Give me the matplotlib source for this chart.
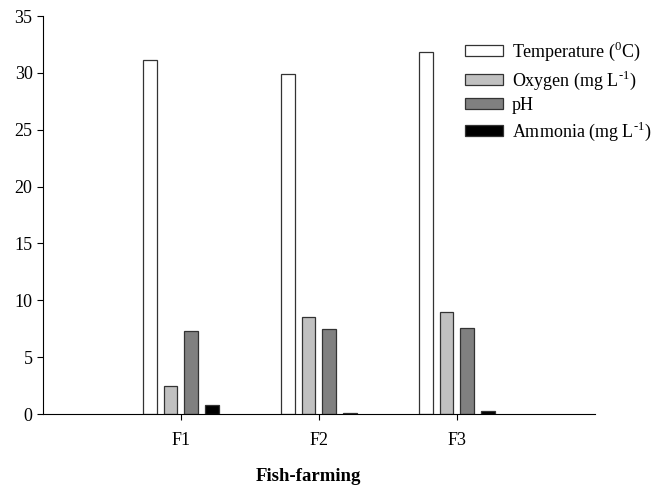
import matplotlib
matplotlib.use("Agg")
import matplotlib.pyplot as plt
import numpy as np

plt.rcParams["font.family"] = ["Liberation Serif", "DejaVu Serif"]
plt.rcParams["mathtext.fontset"] = "custom"
plt.rcParams["mathtext.rm"] = "Liberation Serif"

farms = ["F1", "F2", "F3"]
temperature = [31.1, 29.9, 31.8]
oxygen = [2.5, 8.5, 9.0]
ph = [7.3, 7.5, 7.6]
ammonia = [0.8, 0.1, 0.3]

series = [
    ("Temperature ($^{0}$C)", temperature, "white"),
    (r"Oxygen (mg L$^{\text{-}1}$)", oxygen, "#c0c0c0"),
    ("pH", ph, "#808080"),
    (r"Ammonia (mg L$^{\text{-}1}$)", ammonia, "black"),
]

fig = plt.figure(figsize=(6.61, 4.86), dpi=100)
ax = fig.add_axes([0.065, 0.148, 0.835, 0.819])

x = np.arange(1, len(farms) + 1)
width = 0.1
offsets = [-0.225, -0.075, 0.075, 0.225]
for (label, vals, color), off in zip(series, offsets):
    ax.bar(x + off, vals, width, color=color, edgecolor="#333333",
           linewidth=0.9, label=label)

ax.set_xlim(0, 4)
ax.set_ylim(0, 35)
ax.set_yticks(range(0, 36, 5))
ax.set_xticks(x)
ax.set_xticklabels(farms)
ax.spines["top"].set_visible(False)
ax.spines["right"].set_visible(False)
ax.tick_params(axis="both", labelsize=13, length=4, direction="out")
ax.tick_params(axis="x", pad=9)
fig.text(308 / 661, 1 - 476 / 486, "Fish-farming", fontsize=13.5,
         fontweight="bold", ha="center", va="center")

ax.legend(loc="upper left", bbox_to_anchor=(465 / 661, 1 - 40 / 486),
          bbox_transform=fig.transFigure, borderaxespad=0, borderpad=0,
          frameon=False, fontsize=13, handlelength=2.1, handleheight=0.55,
          labelspacing=0.3, handletextpad=0.5)

fig.savefig("out.png", dpi=100)
